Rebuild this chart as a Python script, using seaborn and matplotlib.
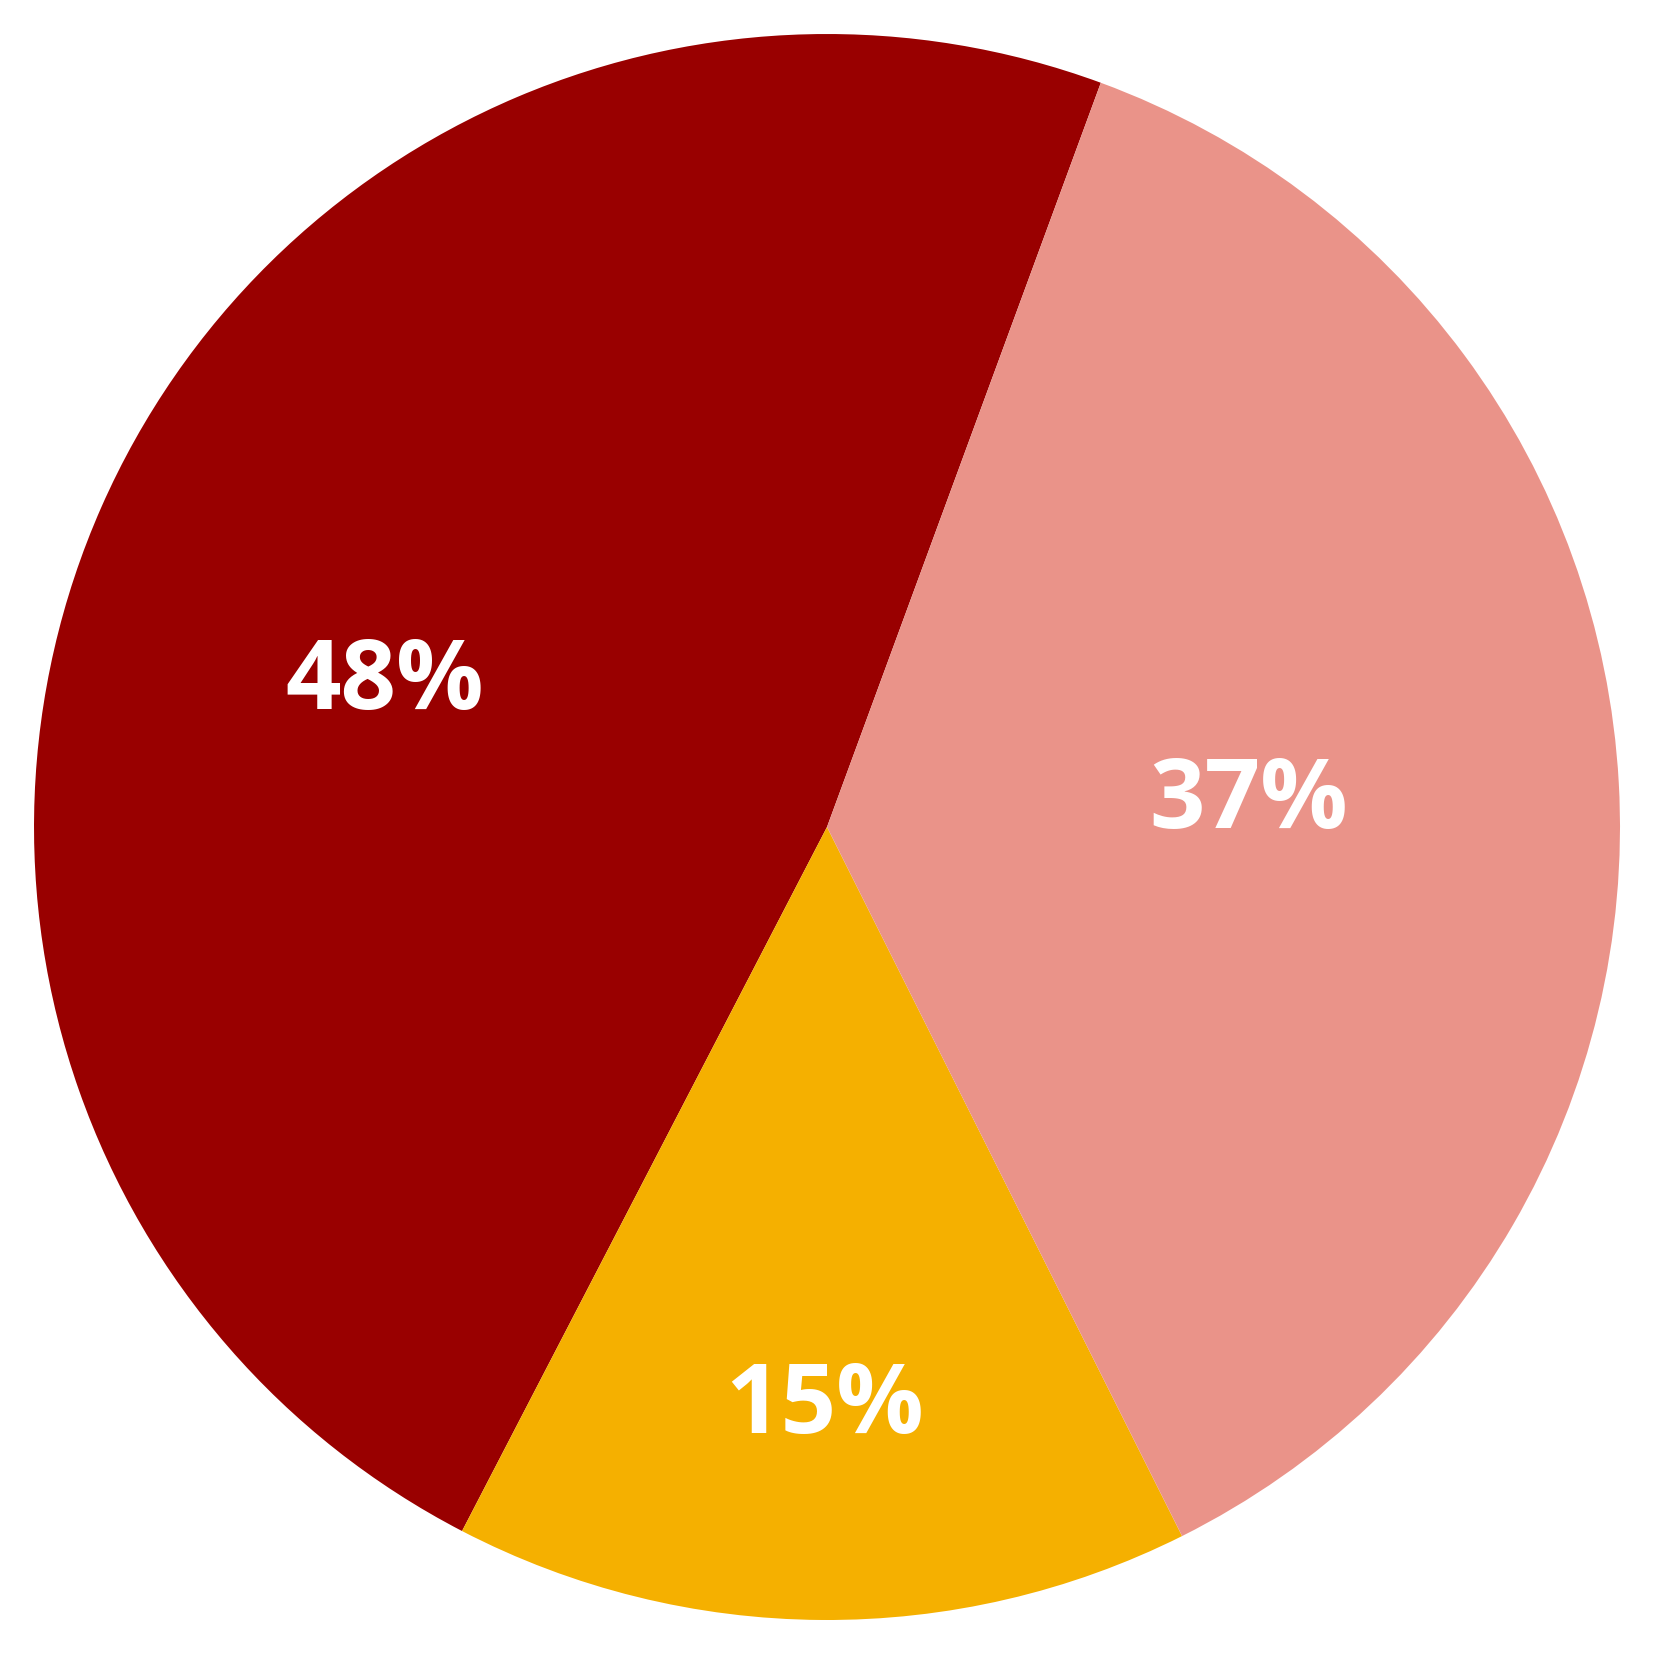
import matplotlib
matplotlib.use("Agg")
import matplotlib.pyplot as plt
import matplotlib.transforms as mtransforms
import numpy as np
import seaborn as sns

# slice shares (percent), drawn counter-clockwise from the top-right cut
shares = [48, 15, 37]
labels = ["48%", "15%", "37%"]
colors = ["#990000", "#F5B000", "#EA9389"]

# label placement in polar form (fraction of radius, degrees)
label_radius = [0.59, 0.721, 0.534]
label_angle = [161.0, -90.2, 4.5]

sns.set_theme(style="white")
plt.rcParams["font.family"] = ["Open Sans", "DejaVu Sans"]

fig = plt.figure(figsize=(16.54, 16.54), dpi=100)
ax = fig.add_axes([0, 0, 1, 1])

wedges, _ = ax.pie(shares, colors=colors, startangle=69.8, counterclock=True,
                   radius=1.0, center=(0, 0), wedgeprops=dict(linewidth=0))

# nudge text down a little so the digits (not the full line box) are centred
shifted = mtransforms.offset_copy(ax.transData, fig=fig, y=-9, units="dots")
for lab, r, a in zip(labels, label_radius, label_angle):
    t = np.deg2rad(a)
    ax.text(r * np.cos(t), r * np.sin(t), lab, color="white", transform=shifted,
            fontsize=70, fontweight="bold", ha="center", va="center")

lim = 1654 / (2 * 793)
ax.set_xlim(-lim, lim)
ax.set_ylim(-lim, lim)
ax.set_aspect("equal")
ax.axis("off")

fig.savefig("out.png", dpi=100, facecolor="white")
